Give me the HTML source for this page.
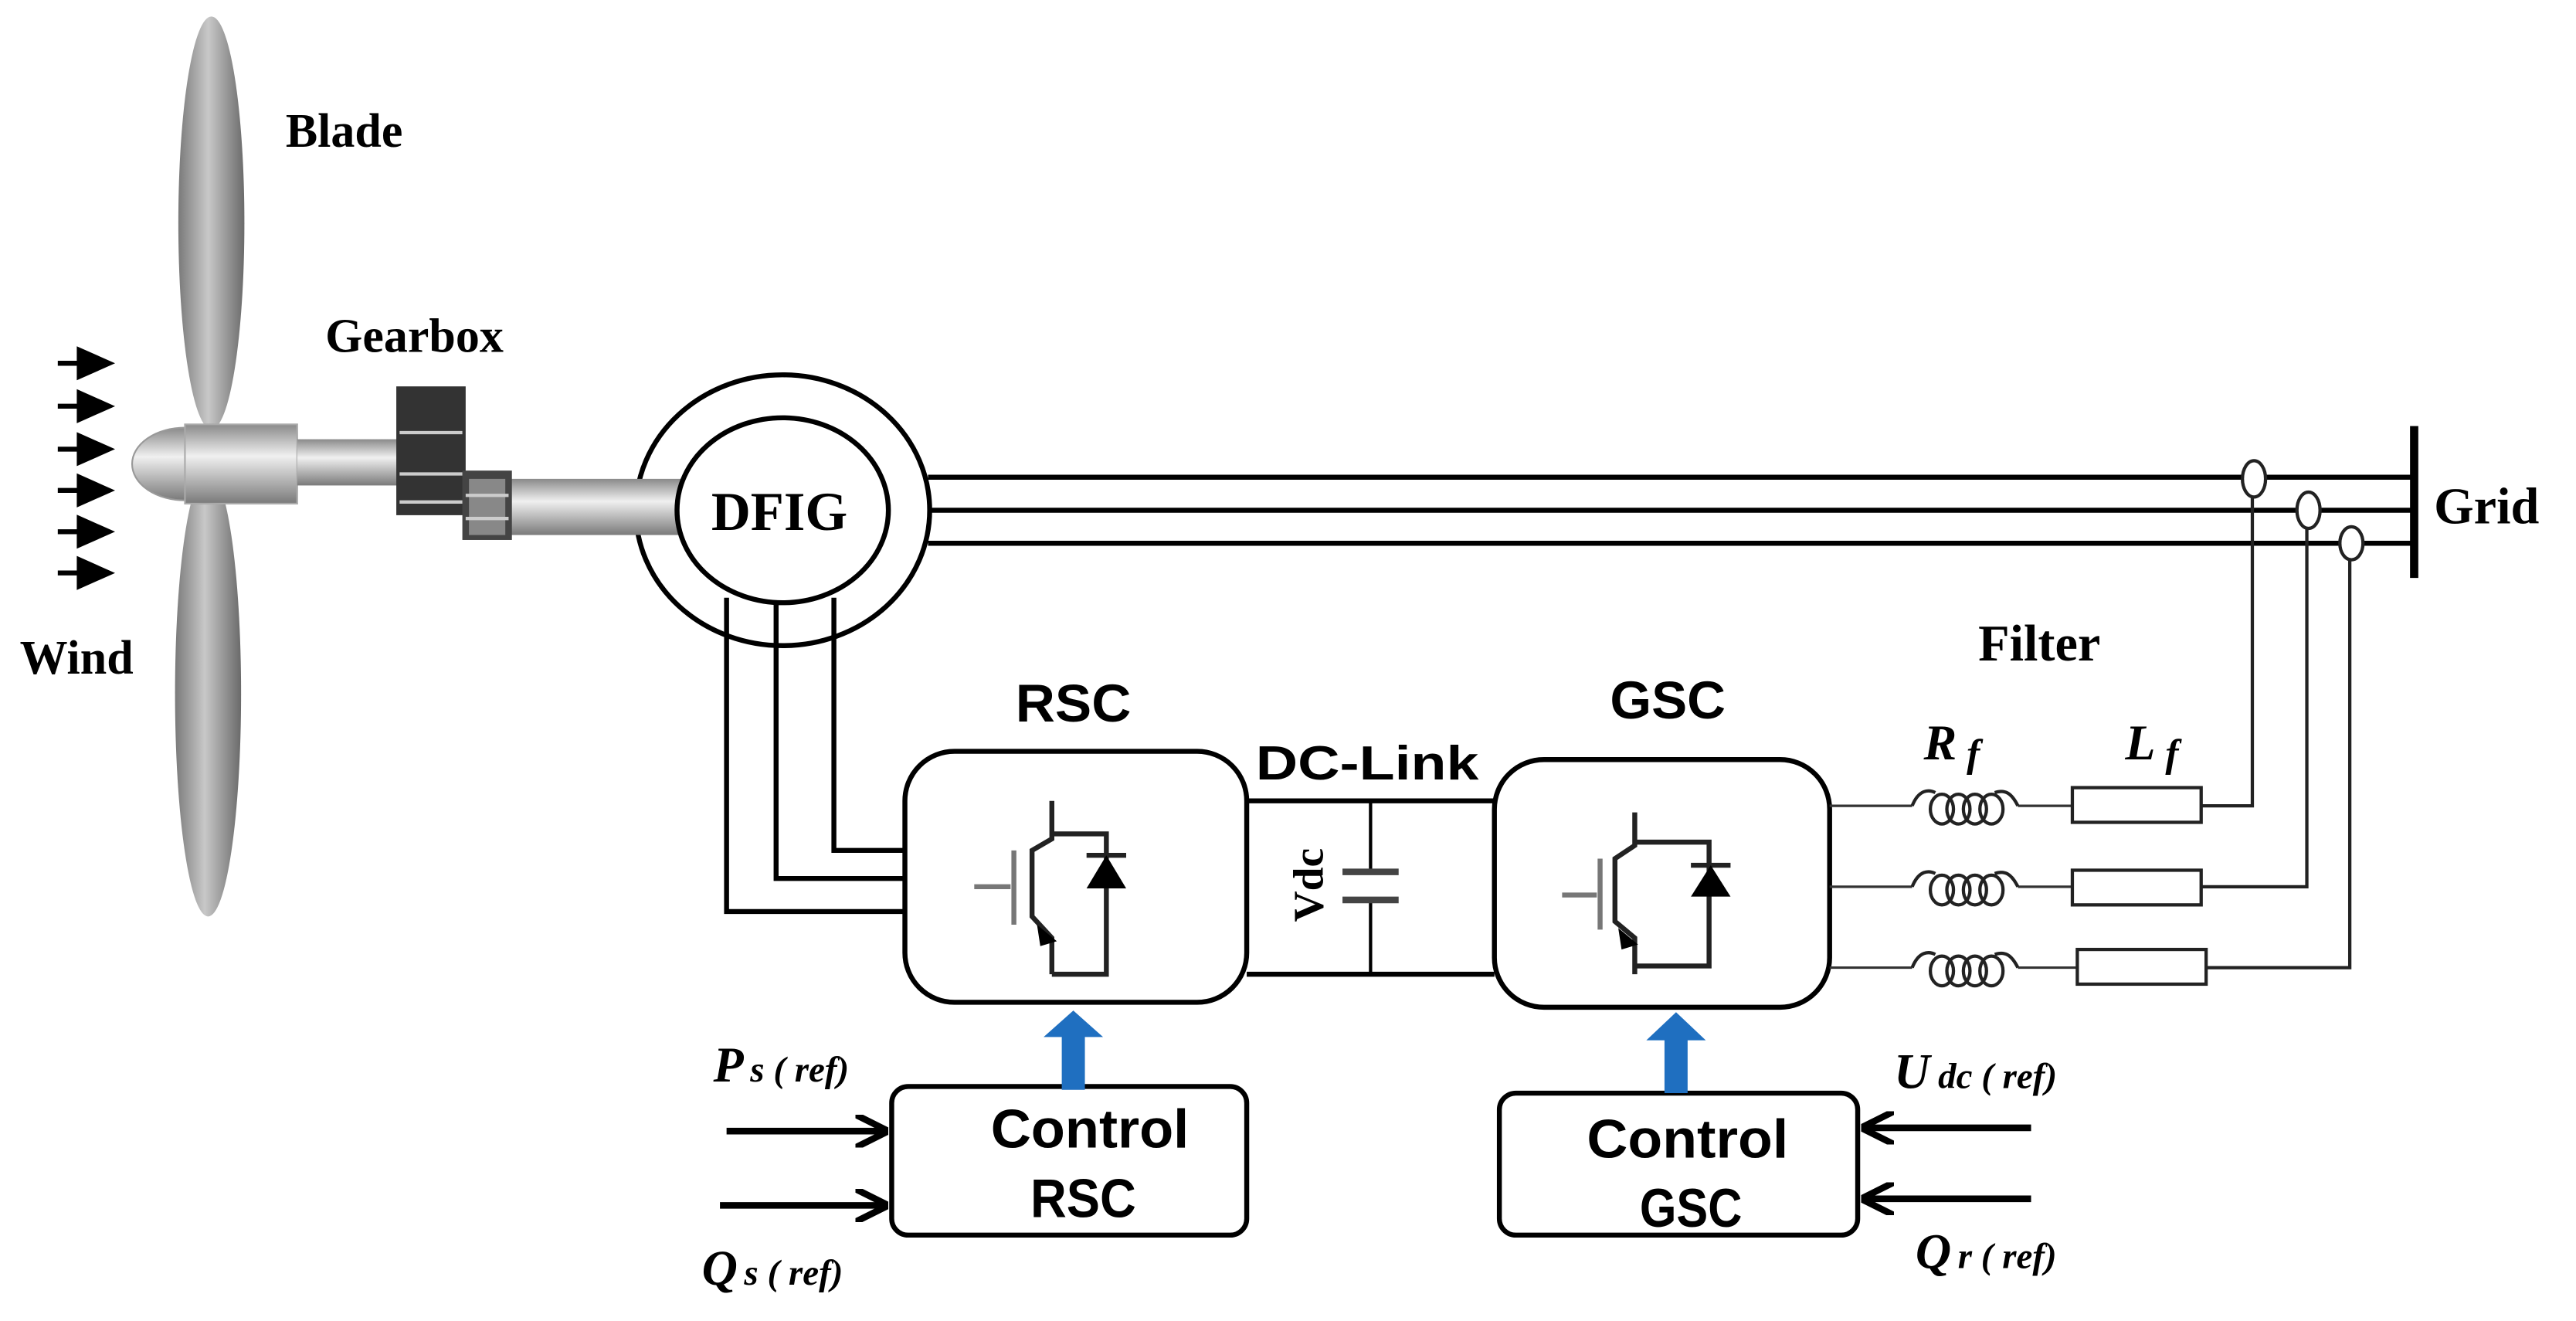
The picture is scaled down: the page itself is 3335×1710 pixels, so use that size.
<!DOCTYPE html>
<html><head><meta charset="utf-8"><style>
html,body{margin:0;padding:0;background:#fff}
svg{display:block}
.sb{font-family:"Liberation Serif",serif;font-weight:bold;fill:#000}
.cn{font-family:"Liberation Sans",sans-serif;font-weight:bold;fill:#000}
.it{font-family:"Liberation Serif",serif;font-weight:bold;font-style:italic;fill:#000}
</style></head><body>
<svg width="3335" height="1710" viewBox="0 0 1560 800" preserveAspectRatio="none" xmlns="http://www.w3.org/2000/svg">
<defs>
<linearGradient id="bl" x1="0" x2="1"><stop offset="0" stop-color="#7a7a7a"/><stop offset="0.45" stop-color="#c8c8c8"/><stop offset="1" stop-color="#6a6a6a"/></linearGradient>
<linearGradient id="sh" x1="0" y1="0" x2="0" y2="1"><stop offset="0" stop-color="#8a8a8a"/><stop offset="0.4" stop-color="#f0f0f0"/><stop offset="1" stop-color="#7a7a7a"/></linearGradient>
<marker id="ah" viewBox="0 0 10 10" refX="9" refY="5" markerWidth="5" markerHeight="5" orient="auto"><path d="M0,0 L10,5 L0,10" fill="none" stroke="#000" stroke-width="2"/></marker>
</defs>
<!-- blades -->
<ellipse cx="128" cy="135" rx="20" ry="125" fill="url(#bl)"/>
<ellipse cx="126" cy="420" rx="20" ry="135" fill="url(#bl)"/>
<!-- wind arrows -->
<g fill="#000" stroke="#000" stroke-width="3">
<line x1="35" y1="220" x2="50" y2="220"/><polygon points="48,212 66,220 48,228"/>
<line x1="35" y1="246" x2="50" y2="246"/><polygon points="48,238 66,246 48,254"/>
<line x1="35" y1="272" x2="50" y2="272"/><polygon points="48,264 66,272 48,280"/>
<line x1="35" y1="297" x2="50" y2="297"/><polygon points="48,289 66,297 48,305"/>
<line x1="35" y1="322" x2="50" y2="322"/><polygon points="48,314 66,322 48,330"/>
<line x1="35" y1="347" x2="50" y2="347"/><polygon points="48,339 66,347 48,355"/>
</g>
<!-- DFIG outer -->
<ellipse cx="474" cy="309" rx="89" ry="82" fill="#fff" stroke="#000" stroke-width="3"/>
<!-- hub & shafts -->
<ellipse cx="112" cy="281" rx="32" ry="22" fill="url(#sh)" stroke="#999"/>
<rect x="112" y="257" width="68" height="48" fill="url(#sh)" stroke="#aaa"/>
<rect x="180" y="266" width="62" height="28" fill="url(#sh)"/>
<rect x="305" y="290" width="110" height="34" fill="url(#sh)"/>
<!-- gearbox -->
<rect x="240" y="234" width="42" height="78" fill="#333"/>
<rect x="280" y="285" width="30" height="42" fill="#444"/>
<rect x="284" y="290" width="22" height="34" fill="#888"/>
<g stroke="#ccc" stroke-width="2"><line x1="242" y1="262" x2="280" y2="262"/><line x1="242" y1="287" x2="280" y2="287"/><line x1="242" y1="304" x2="280" y2="304"/><line x1="282" y1="300" x2="308" y2="300"/><line x1="282" y1="314" x2="308" y2="314"/></g>
<ellipse cx="474" cy="309" rx="64" ry="56" fill="#fff" stroke="#000" stroke-width="3"/>
<text x="472" y="321" class="sb" font-size="33" text-anchor="middle">DFIG</text>
<!-- stator lines -->
<g stroke="#000" stroke-width="3" fill="none">
<line x1="562" y1="289" x2="1462" y2="289"/>
<line x1="562" y1="309" x2="1462" y2="309"/>
<line x1="562" y1="329" x2="1462" y2="329"/>
<line x1="1462" y1="258" x2="1462" y2="350" stroke-width="5"/>
<!-- rotor lines -->
<polyline points="440,362 440,552 548,552"/>
<polyline points="470,364 470,532 548,532"/>
<polyline points="505,362 505,515 548,515"/>
<!-- RSC / GSC boxes -->
<rect x="548" y="455" width="207" height="152" rx="30" stroke-width="3"/>
<rect x="905" y="460" width="203" height="150" rx="30" stroke-width="3"/>
<!-- DC link -->
<line x1="755" y1="485" x2="905" y2="485"/>
<line x1="755" y1="590" x2="905" y2="590"/>
<line x1="830" y1="485" x2="830" y2="528" stroke-width="2"/>
<line x1="830" y1="545" x2="830" y2="590" stroke-width="2"/>
<line x1="813" y1="528" x2="847" y2="528" stroke="#444" stroke-width="4"/>
<line x1="813" y1="545" x2="847" y2="545" stroke="#444" stroke-width="4"/>
<!-- control boxes -->
<rect x="540" y="658" width="215" height="90" rx="10" stroke-width="3"/>
<rect x="908" y="662" width="217" height="86" rx="10" stroke-width="3"/>
</g>
<!-- IGBT RSC -->
<g stroke="#222" stroke-width="3" fill="none">
<line x1="590" y1="537" x2="612" y2="537" stroke="#777"/>
<line x1="614" y1="515" x2="614" y2="560" stroke="#777"/>
<polyline points="637,485 637,508 625,515 625,555 637,568 637,590"/>
<polyline points="637,505 670,505 670,590 637,590"/>
<line x1="658" y1="518" x2="682" y2="518"/>
</g>
<polygon points="658,538 682,538 670,518" fill="#000"/>
<polygon points="628,560 640,570 630,573" fill="#000"/>
<!-- IGBT GSC -->
<g stroke="#222" stroke-width="3" fill="none">
<line x1="946" y1="542" x2="967" y2="542" stroke="#777"/>
<line x1="969" y1="520" x2="969" y2="563" stroke="#777"/>
<polyline points="990,492 990,512 978,520 978,558 990,568 990,590"/>
<polyline points="990,510 1035,510 1035,585 990,585"/>
<line x1="1024" y1="524" x2="1048" y2="524"/>
</g>
<polygon points="1024,543 1048,543 1036,524" fill="#000"/>
<polygon points="980,562 992,572 982,575" fill="#000"/>
<!-- filter branches -->
<g stroke="#333" stroke-width="1.5" fill="none">
<line x1="1108" y1="488" x2="1158" y2="488"/><line x1="1222" y1="488" x2="1255" y2="488"/>
<line x1="1108" y1="537" x2="1158" y2="537"/><line x1="1222" y1="537" x2="1255" y2="537"/>
<line x1="1108" y1="586" x2="1158" y2="586"/><line x1="1222" y1="586" x2="1258" y2="586"/>
</g>
<g stroke="#222" stroke-width="2" fill="none">
<path d="M1158,488 C1162,478 1168,478 1172,480 M1208,480 C1214,478 1218,480 1222,488"/>
<ellipse cx="1176" cy="490" rx="7" ry="9"/><ellipse cx="1186" cy="490" rx="7" ry="9"/><ellipse cx="1196" cy="490" rx="7" ry="9"/><ellipse cx="1206" cy="490" rx="7" ry="9"/>
<path d="M1158,537 C1162,527 1168,527 1172,529 M1208,529 C1214,527 1218,529 1222,537"/>
<ellipse cx="1176" cy="539" rx="7" ry="9"/><ellipse cx="1186" cy="539" rx="7" ry="9"/><ellipse cx="1196" cy="539" rx="7" ry="9"/><ellipse cx="1206" cy="539" rx="7" ry="9"/>
<path d="M1158,586 C1162,576 1168,576 1172,578 M1208,578 C1214,576 1218,578 1222,586"/>
<ellipse cx="1176" cy="588" rx="7" ry="9"/><ellipse cx="1186" cy="588" rx="7" ry="9"/><ellipse cx="1196" cy="588" rx="7" ry="9"/><ellipse cx="1206" cy="588" rx="7" ry="9"/>
<rect x="1255" y="477" width="78" height="21"/>
<rect x="1255" y="527" width="78" height="21"/>
<rect x="1258" y="575" width="78" height="21"/>
<polyline points="1333,488 1364,488 1364,298"/>
<polyline points="1333,537 1397,537 1397,316"/>
<polyline points="1336,586 1423,586 1423,336"/>
<ellipse cx="1365" cy="290" rx="7" ry="11" fill="#fff"/>
<ellipse cx="1398" cy="309" rx="7" ry="11" fill="#fff"/>
<ellipse cx="1424" cy="329" rx="7" ry="10" fill="#fff"/>
</g>
<!-- blue arrows -->
<polygon points="643,660 657,660 657,628 668,628 650,612 632,628 643,628" fill="#1f6fc0"/>
<polygon points="1008,662 1022,662 1022,630 1033,630 1015,613 997,630 1008,630" fill="#1f6fc0"/>
<!-- ref arrows -->
<g stroke="#000" stroke-width="4" fill="none">
<line x1="440" y1="685" x2="536" y2="685" marker-end="url(#ah)"/>
<line x1="436" y1="730" x2="536" y2="730" marker-end="url(#ah)"/>
<line x1="1230" y1="683" x2="1129" y2="683" marker-end="url(#ah)"/>
<line x1="1230" y1="726" x2="1129" y2="726" marker-end="url(#ah)"/>
</g>
<!-- labels -->
<text x="173" y="89" class="sb" font-size="29">Blade</text>
<text x="197" y="213" class="sb" font-size="29">Gearbox</text>
<text x="12" y="408" class="sb" font-size="29">Wind</text>
<text x="1474" y="317" class="sb" font-size="31">Grid</text>
<text x="1198" y="400" class="sb" font-size="31">Filter</text>
<text x="650" y="437" class="cn" font-size="32" text-anchor="middle" textLength="70" lengthAdjust="spacingAndGlyphs">RSC</text>
<text x="1010" y="435" class="cn" font-size="32" text-anchor="middle" textLength="70" lengthAdjust="spacingAndGlyphs">GSC</text>
<text x="828" y="472" class="cn" font-size="29" text-anchor="middle" textLength="135" lengthAdjust="spacingAndGlyphs">DC-Link</text>
<text transform="translate(801,536) rotate(-90)" class="sb" font-size="26" text-anchor="middle">Vdc</text>
<text x="660" y="695" class="cn" font-size="33" text-anchor="middle" textLength="120" lengthAdjust="spacingAndGlyphs">Control</text>
<text x="656" y="737" class="cn" font-size="33" text-anchor="middle" textLength="64" lengthAdjust="spacingAndGlyphs">RSC</text>
<text x="1022" y="701" class="cn" font-size="33" text-anchor="middle" textLength="122" lengthAdjust="spacingAndGlyphs">Control</text>
<text x="1024" y="743" class="cn" font-size="33" text-anchor="middle" textLength="62" lengthAdjust="spacingAndGlyphs">GSC</text>
<text x="1165" y="460" class="it" font-size="30">R<tspan font-size="24" dx="6" dy="4">f</tspan></text>
<text x="1287" y="460" class="it" font-size="30">L<tspan font-size="24" dx="6" dy="4">f</tspan></text>
<text x="432" y="655" class="it" font-size="30">P<tspan font-size="22" dx="4">s ( ref)</tspan></text>
<text x="425" y="778" class="it" font-size="30">Q<tspan font-size="22" dx="4">s ( ref)</tspan></text>
<text x="1147" y="659" class="it" font-size="30">U<tspan font-size="22" dx="5">dc ( ref)</tspan></text>
<text x="1160" y="768" class="it" font-size="30">Q<tspan font-size="22" dx="4">r ( ref)</tspan></text>
</svg>
</body></html>
